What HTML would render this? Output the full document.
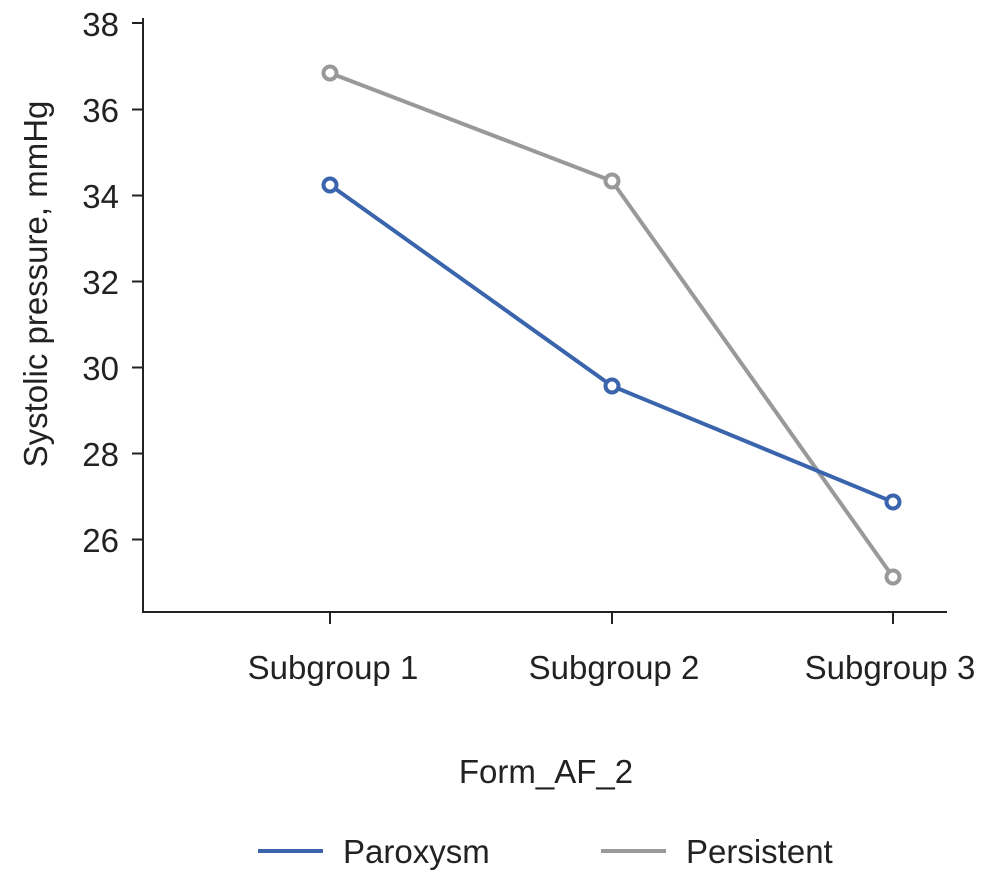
<!DOCTYPE html>
<html><head><style>body{margin:0;background:#fff}</style></head><body>
<svg width="1008" height="887" xmlns="http://www.w3.org/2000/svg" font-family="Liberation Sans, Arial, sans-serif" fill="#222">
<g stroke="#222" stroke-width="2" fill="none">
<line x1="143" y1="18" x2="143" y2="613"/>
<line x1="142" y1="612" x2="947" y2="612"/>
<line x1="132" y1="23" x2="143" y2="23"/>
<line x1="132" y1="109.5" x2="143" y2="109.5"/>
<line x1="132" y1="195.5" x2="143" y2="195.5"/>
<line x1="132" y1="281.5" x2="143" y2="281.5"/>
<line x1="132" y1="367.5" x2="143" y2="367.5"/>
<line x1="132" y1="453.5" x2="143" y2="453.5"/>
<line x1="132" y1="539.5" x2="143" y2="539.5"/>
<line x1="330" y1="612" x2="330" y2="624"/>
<line x1="612" y1="612" x2="612" y2="624"/>
<line x1="893" y1="612" x2="893" y2="624"/>
</g>
<g font-size="33" text-anchor="end">
<text x="119" y="36">38</text><text x="119" y="122">36</text><text x="119" y="208">34</text>
<text x="119" y="294">32</text><text x="119" y="380">30</text><text x="119" y="466">28</text><text x="119" y="552">26</text>
</g>
<g font-size="33" text-anchor="middle">
<text x="333" y="679">Subgroup 1</text><text x="614" y="679">Subgroup 2</text><text x="890" y="679">Subgroup 3</text>
<text x="546" y="783">Form_AF_2</text>
<text transform="translate(47,284) rotate(-90)">Systolic pressure, mmHg</text>
</g>
<polyline points="330,73 612,181 893,577" fill="none" stroke="#999" stroke-width="4"/>
<polyline points="330,185 612,386 893,502" fill="none" stroke="#3a65ad" stroke-width="4"/>
<g fill="#fff" stroke="#999" stroke-width="4">
<circle cx="330" cy="73" r="6.5"/><circle cx="612" cy="181" r="6.5"/><circle cx="893" cy="577" r="6.5"/></g>
<g fill="#fff" stroke="#3a65ad" stroke-width="4">
<circle cx="330" cy="185" r="6.5"/><circle cx="612" cy="386" r="6.5"/><circle cx="893" cy="502" r="6.5"/></g>
<line x1="258" y1="851" x2="323" y2="851" stroke="#3a65ad" stroke-width="4"/>
<line x1="601" y1="851" x2="666" y2="851" stroke="#999" stroke-width="4"/>
<g font-size="33"><text x="343" y="863">Paroxysm</text><text x="686" y="863">Persistent</text></g>
</svg>
</body></html>
